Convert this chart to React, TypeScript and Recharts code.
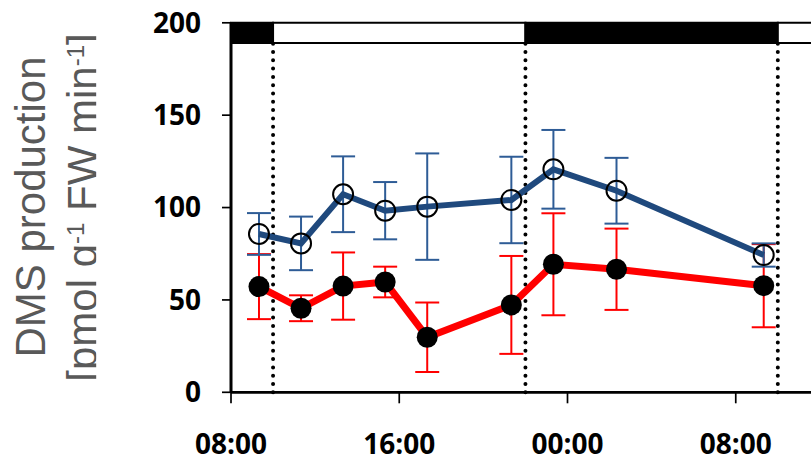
import React from 'react';
import { LineChart, Line, XAxis, YAxis, ErrorBar, ReferenceArea, ReferenceLine } from 'recharts';

// hours after 08:00 on day 1
const sampleHours = [1.33, 3.33, 5.33, 7.33, 9.33, 13.33, 15.33, 18.33, 25.33];
const openValues = [85.7, 80.6, 107.2, 98.3, 100.5, 104.1, 120.7, 109.1, 74.3];
const openErrors = [11.3, 14.5, 20.5, 15.5, 28.8, 23.4, 21.3, 17.8, 6.3];
const filledValues = [57.2, 45.5, 57.5, 59.7, 29.8, 47.3, 69.3, 66.6, 57.7];
const filledErrors = [17.6, 7, 18.2, 8.3, 18.8, 26.5, 27.6, 22, 22.5];

const xTicks = [0, 8, 16, 24, 32];
const xTickLabels = ['08:00', '16:00', '00:00', '08:00', '16:00'];
const yTicks = [0, 50, 100, 150, 200];

// light/dark periods (hours after 08:00): dark = true
const periods = [
  { from: 0, to: 2, dark: true },
  { from: 2, to: 14, dark: false },
  { from: 14, to: 26, dark: true },
  { from: 26, to: 32, dark: false },
];
const periodBoundaries = [2, 14, 26];

const data = sampleHours.map((t, i) => ({
  t,
  open: openValues[i],
  openErr: openErrors[i],
  filled: filledValues[i],
  filledErr: filledErrors[i],
}));

const tickFont = { fill: '#000', fontSize: 28, fontWeight: 700, fontFamily: '"Open Sans", Calibri, sans-serif' };

export default function App() {
  return (
    <div style={{ position: 'absolute', left: 0, top: 0, width: 811, height: 460, overflow: 'hidden', background: '#fff' }}>
      <LineChart
        width={914}
        height={460}
        data={data}
        margin={{ top: 22.8, right: 10, bottom: 0, left: 0 }}
      >
        <XAxis
          type="number"
          dataKey="t"
          domain={[0, 32]}
          ticks={xTicks}
          allowDataOverflow
          tickFormatter={(v: number) => xTickLabels[xTicks.indexOf(v)] ?? ''}
          height={67.7}
          tickSize={11}
          tickMargin={31}
          axisLine={{ stroke: '#000', strokeWidth: 2.7 }}
          tickLine={{ stroke: '#000', strokeWidth: 1.7 }}
          tick={tickFont}
          interval={0}
        />
        <YAxis
          type="number"
          domain={[0, 200]}
          ticks={yTicks}
          width={231}
          tickSize={9}
          tickMargin={21}
          axisLine={{ stroke: '#000', strokeWidth: 3 }}
          tickLine={{ stroke: '#000', strokeWidth: 1.7 }}
          tick={tickFont}
          interval={0}
        />
        {periods.map((p, i) => (
          <ReferenceArea
            key={'p' + i}
            x1={p.from}
            x2={p.to}
            y1={189}
            y2={200}
            fill={p.dark ? '#000' : '#fff'}
            fillOpacity={1}
            stroke="#000"
            strokeWidth={2}
            ifOverflow="visible"
          />
        ))}
        {periodBoundaries.map((b, i) => (
          <ReferenceLine
            key={'b' + i}
            segment={[{ x: b, y: 0 }, { x: b, y: 189 }]}
            stroke="#000"
            strokeWidth={4}
            strokeDasharray="0 8.3"
            strokeLinecap="round"
            ifOverflow="visible"
          />
        ))}
        <Line
          dataKey="filled"
          stroke="#FF0000"
          strokeWidth={7}
          dot={{ r: 10.5, fill: '#000', stroke: '#000', strokeWidth: 0 }}
          isAnimationActive={false}
        >
          <ErrorBar dataKey="filledErr" direction="y" width={12} stroke="#FF0000" strokeWidth={2} />
        </Line>
        <Line
          dataKey="open"
          stroke="#1F497D"
          strokeWidth={6}
          dot={{ r: 10, fill: 'none', stroke: '#000', strokeWidth: 2 }}
          isAnimationActive={false}
        >
          <ErrorBar dataKey="openErr" direction="y" width={12} stroke="#2E5C96" strokeWidth={2} />
        </Line>
      </LineChart>
      <svg width={811} height={460} style={{ position: 'absolute', left: 0, top: 0, pointerEvents: 'none' }}>
        <defs>
          <clipPath id="ylabelClip">
            <rect x={0} y={0} width={96.2} height={460} />
          </clipPath>
        </defs>
        <g clipPath="url(#ylabelClip)" fill="#595959" fontFamily='"Liberation Sans", Arial, sans-serif' fontSize={42}>
          <text transform="translate(45,207) rotate(-90)" textAnchor="middle">DMS production</text>
          <text transform="translate(96.7,207.5) rotate(-90)" textAnchor="middle">
            [pmol g<tspan fontSize={24} dy={-13}>-1</tspan>
            <tspan dy={13}> FW min</tspan>
            <tspan fontSize={24} dy={-13}>-1</tspan>
            <tspan dy={13}>]</tspan>
          </text>
        </g>
      </svg>
    </div>
  );
}
